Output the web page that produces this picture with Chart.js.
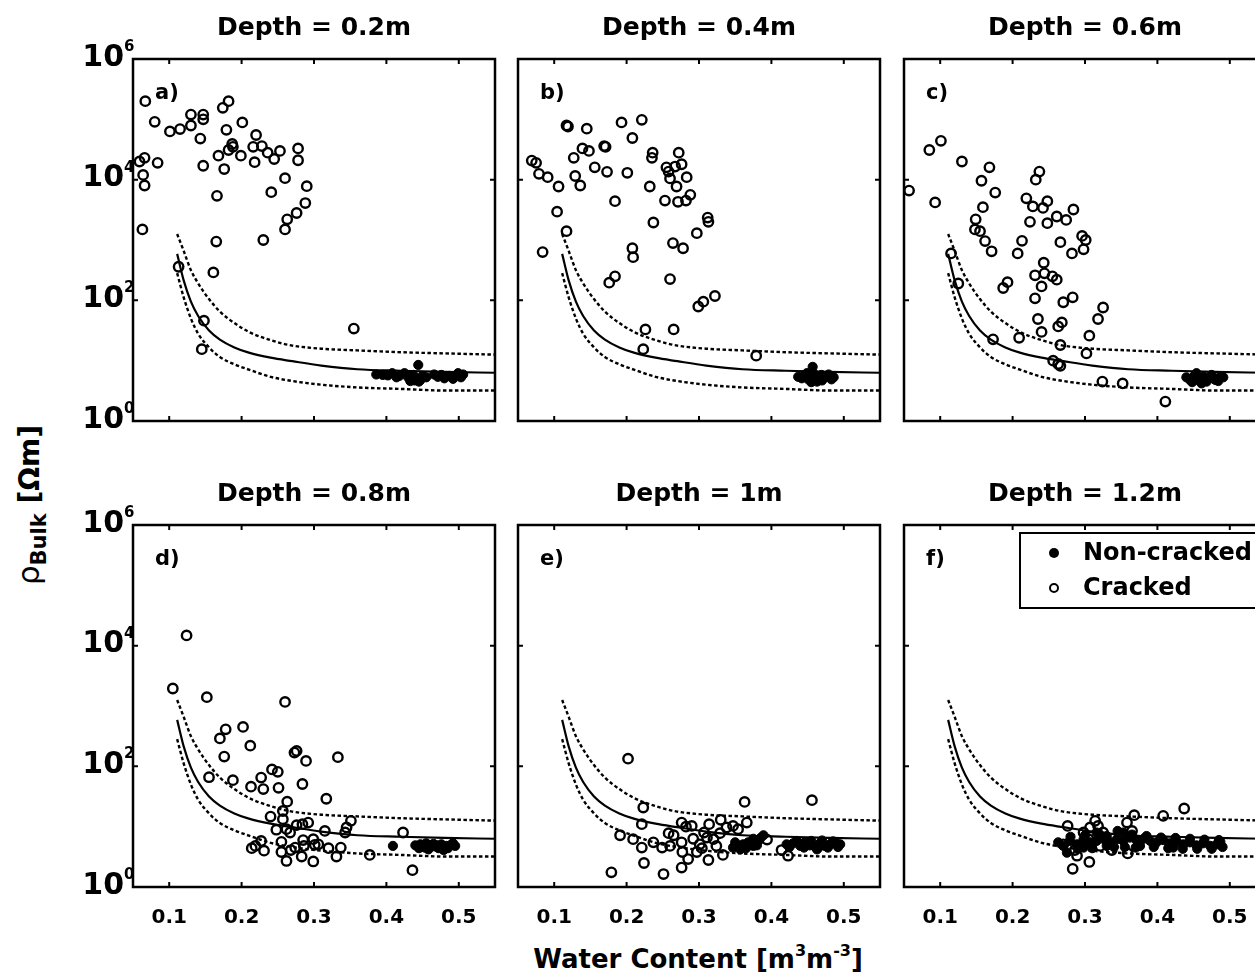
<!DOCTYPE html>
<html>
<head>
<meta charset="utf-8">
<script src="https://cdn.jsdelivr.net/npm/chart.js@4.4.1/dist/chart.umd.min.js"></script>
<style>
  html, body { margin: 0; padding: 0; background: #fff; overflow: hidden; }
  body { width: 1255px; height: 980px; position: relative; font-family: "DejaVu Sans", sans-serif; }
  canvas { position: absolute; }
  .lab { position: absolute; white-space: nowrap; font-weight: bold; color: #000; line-height: 1; }
  #ylab { left: 31px; top: 505px; font-size: 28px; transform: translate(-50%, -50%) rotate(-90deg); }
  #ylab .rho { font-weight: normal; font-size: 31px; }
  #ylab sub { font-size: 21px; vertical-align: -7px; }
  #xlab { left: 698px; top: 957px; font-size: 26px; transform: translate(-50%, -50%); }
  #xlab sup { font-size: 16px; vertical-align: 12px; }
</style>
</head>
<body>
<div id="ylab" class="lab"><span class="rho">ρ</span><sub>Bulk</sub> [Ωm]</div>
<div id="xlab" class="lab">Water Content [m<sup>3</sup>m<sup>-3</sup>]</div>
<script>
// titulos e rotulos dos paineis
const panelTitles = ["Depth = 0.2m", "Depth = 0.4m", "Depth = 0.6m", "Depth = 0.8m", "Depth = 1m", "Depth = 1.2m"];
const panelLetters = ["a)", "b)", "c)", "d)", "e)", "f)"];
const xTicks = [0.1, 0.2, 0.3, 0.4, 0.5];
const yTicks = [1, 1e2, 1e4, 1e6];
const yTickExp = ["0", "2", "4", "6"];

// curva ajustada e limites
const curveX     = [0.111, 0.12, 0.13, 0.14, 0.155, 0.17, 0.19, 0.21, 0.24, 0.27, 0.31, 0.36, 0.42, 0.48, 0.55];
const curveMid   = [589, 214, 95, 55, 31.6, 22.4, 16.6, 13.6, 11.2, 9.8, 8.3, 7.2, 6.8, 6.5, 6.3];
const curveUpper = [1259, 661, 316, 191, 105, 65, 42, 30, 21.9, 17.8, 15.8, 14.8, 13.8, 13.2, 12.6];
const curveLower = [282, 112, 50, 28, 16.6, 11.5, 8.7, 7.1, 5.4, 4.6, 4.0, 3.6, 3.4, 3.2, 3.2];

// pontos [teor de agua, resistividade]
const crackedA = [[0.067,2.0e5],[0.059,2.0e4],[0.066,2.3e4],[0.064,1.2e4],[0.066,8.0e3],[0.063,1.5e3],[0.080,9.1e4],[0.084,1.9e4],[0.101,6.3e4],[0.115,6.9e4],[0.130,1.2e5],[0.130,7.9e4],[0.147,1.2e5],[0.147,1.0e5],[0.143,4.8e4],[0.147,1.7e4],[0.174,1.55e5],[0.182,2.0e5],[0.179,6.7e4],[0.201,8.9e4],[0.168,2.5e4],[0.176,1.5e4],[0.182,3.1e4],[0.187,3.9e4],[0.188,3.5e4],[0.199,2.5e4],[0.166,5.4e3],[0.165,940],[0.161,290],[0.113,360],[0.148,46],[0.145,15.5],[0.220,5.5e4],[0.216,3.5e4],[0.228,3.6e4],[0.218,1.95e4],[0.236,2.8e4],[0.245,2.2e4],[0.253,3.0e4],[0.278,3.3e4],[0.278,2.1e4],[0.241,6.2e3],[0.260,1.06e4],[0.290,7.8e3],[0.288,4.1e3],[0.276,2.8e3],[0.263,2.2e3],[0.260,1.5e3],[0.230,1.0e3],[0.355,34]];
const intactA = [[0.386,5.9],[0.395,5.8],[0.408,6.2],[0.418,5.6],[0.425,6.2],[0.430,5.3],[0.437,5.8],[0.444,8.5],[0.441,5.1],[0.447,4.8],[0.450,5.6],[0.455,5.3],[0.471,5.4],[0.480,5.1],[0.487,5.6],[0.499,6.2],[0.503,5.3],[0.506,5.9],[0.466,5.9],[0.414,5.3],[0.402,5.7],[0.439,4.7],[0.433,4.6],[0.445,4.5],[0.476,5.8],[0.492,5.0]];
const crackedB = [[0.069,2.07e4],[0.075,1.9e4],[0.079,1.25e4],[0.091,1.1e4],[0.106,7.7e3],[0.104,2.95e3],[0.117,1.4e3],[0.084,630],[0.117,7.9e4],[0.119,7.6e4],[0.145,7.0e4],[0.127,2.3e4],[0.129,1.15e4],[0.136,8.0e3],[0.139,3.3e4],[0.148,3.0e4],[0.156,1.6e4],[0.169,3.6e4],[0.171,3.5e4],[0.173,1.35e4],[0.193,8.9e4],[0.208,4.9e4],[0.221,9.8e4],[0.201,1.3e4],[0.184,4.4e3],[0.236,2.8e4],[0.235,2.3e4],[0.232,7.7e3],[0.237,1.95e3],[0.255,1.6e4],[0.258,1.36e4],[0.267,1.65e4],[0.272,2.8e4],[0.276,1.8e4],[0.260,1.05e4],[0.269,7.7e3],[0.283,1.1e4],[0.288,5.6e3],[0.282,4.5e3],[0.271,4.3e3],[0.253,4.5e3],[0.312,2.35e3],[0.313,2.0e3],[0.297,1.3e3],[0.264,890],[0.278,730],[0.208,730],[0.209,520],[0.184,250],[0.176,196],[0.260,225],[0.322,118],[0.306,95],[0.299,79],[0.226,33],[0.265,33],[0.223,15.5],[0.379,12.1]];
const intactB = [[0.437,5.4],[0.442,5.1],[0.446,5.8],[0.451,4.9],[0.457,7.9],[0.458,6.2],[0.460,4.8],[0.465,5.4],[0.469,5.8],[0.474,5.3],[0.479,5.9],[0.483,4.9],[0.486,5.3],[0.449,6.2],[0.463,4.5],[0.455,4.4],[0.470,4.7]];
const crackedC = [[0.057,6.6e3],[0.085,3.1e4],[0.101,4.4e4],[0.093,4.2e3],[0.130,2.0e4],[0.168,1.6e4],[0.157,9.6e3],[0.176,6.1e3],[0.159,3.5e3],[0.149,2.2e3],[0.148,1.5e3],[0.155,1.4e3],[0.162,960],[0.171,650],[0.115,600],[0.125,190],[0.237,1.36e4],[0.232,1.0e4],[0.219,4.9e3],[0.228,3.6e3],[0.242,3.4e3],[0.248,4.4e3],[0.224,2.0e3],[0.248,1.9e3],[0.261,2.45e3],[0.274,2.15e3],[0.284,3.2e3],[0.213,970],[0.207,600],[0.266,920],[0.282,600],[0.296,1.17e3],[0.301,1.0e3],[0.298,700],[0.243,420],[0.231,260],[0.244,280],[0.255,250],[0.261,220],[0.240,170],[0.187,160],[0.193,200],[0.231,108],[0.270,93],[0.283,112],[0.325,76],[0.318,49],[0.235,49],[0.240,30],[0.263,37],[0.268,43],[0.306,26],[0.302,13.2],[0.266,18.2],[0.209,24],[0.173,22.6],[0.256,10],[0.263,8.8],[0.266,8.2],[0.324,4.5],[0.352,4.2],[0.411,2.1]];
const intactC = [[0.440,5.3],[0.445,4.8],[0.451,5.6],[0.457,4.7],[0.461,4.2],[0.464,5.4],[0.470,5.1],[0.475,5.8],[0.480,4.8],[0.487,5.4],[0.491,5.3],[0.454,6.2],[0.468,4.5],[0.448,4.4],[0.484,4.6]];
const crackedD = [[0.124,1.48e4],[0.105,1.95e3],[0.152,1.4e3],[0.260,1.17e3],[0.170,290],[0.178,410],[0.176,145],[0.202,450],[0.212,220],[0.155,66],[0.188,59],[0.213,46],[0.227,65],[0.230,42],[0.242,89],[0.250,81],[0.251,44],[0.273,169],[0.276,180],[0.289,123],[0.284,51],[0.333,142],[0.317,29],[0.263,26],[0.257,18.2],[0.257,13.3],[0.240,14.7],[0.248,8.9],[0.267,8.0],[0.276,10.6],[0.284,11],[0.292,11.7],[0.315,8.5],[0.345,9.7],[0.351,12.5],[0.343,8.0],[0.423,8.0],[0.214,4.4],[0.219,4.8],[0.227,5.8],[0.231,4.0],[0.255,5.6],[0.255,3.8],[0.262,2.7],[0.268,4.1],[0.274,4.5],[0.283,3.2],[0.285,6.0],[0.286,4.8],[0.299,6.2],[0.301,5.0],[0.306,5.1],[0.299,2.65],[0.320,4.4],[0.331,3.2],[0.337,4.5],[0.377,3.4],[0.436,1.9],[0.262,9.1]];
const intactD = [[0.409,4.8],[0.440,4.9],[0.447,5.1],[0.453,4.5],[0.460,4.9],[0.467,4.7],[0.472,4.4],[0.476,5.1],[0.483,4.8],[0.490,5.1],[0.495,4.8],[0.458,4.2],[0.479,4.1],[0.445,4.4],[0.455,5.3],[0.465,5.2],[0.470,4.9],[0.485,4.4],[0.492,5.3]];
const crackedE = [[0.202,134],[0.223,20.8],[0.221,11],[0.363,25.7],[0.456,27.5],[0.191,7.2],[0.209,6.2],[0.221,4.5],[0.224,2.5],[0.179,1.75],[0.251,1.64],[0.276,2.1],[0.237,5.5],[0.249,4.5],[0.258,7.8],[0.265,7.2],[0.260,4.8],[0.276,11.7],[0.282,10],[0.290,10.3],[0.276,5.5],[0.277,3.8],[0.285,2.9],[0.292,6.3],[0.301,5.1],[0.307,8.0],[0.314,11],[0.313,2.8],[0.320,6.2],[0.324,4.8],[0.330,13],[0.333,3.4],[0.338,9.7],[0.347,10.3],[0.354,9.1],[0.366,11.7],[0.297,3.8],[0.304,4.4],[0.414,4.1],[0.423,3.3],[0.311,6.6],[0.329,7.8],[0.394,6.1]];
const intactE = [[0.347,4.5],[0.354,4.8],[0.361,5.1],[0.368,5.5],[0.375,6.3],[0.382,5.8],[0.389,7.2],[0.357,4.2],[0.375,4.8],[0.421,5.1],[0.430,5.3],[0.440,4.8],[0.446,5.5],[0.453,4.9],[0.460,4.7],[0.467,5.3],[0.474,4.8],[0.481,5.1],[0.488,5.6],[0.495,5.1],[0.463,4.2],[0.350,5.5],[0.365,4.4],[0.372,5.2],[0.380,4.9],[0.385,6.5],[0.425,4.6],[0.435,5.8],[0.445,4.5],[0.455,5.8],[0.465,4.5],[0.470,5.9],[0.478,4.5],[0.485,5.7],[0.492,4.6]];
const crackedF = [[0.276,10.3],[0.283,2.0],[0.306,2.6],[0.289,3.3],[0.270,5.1],[0.298,8.0],[0.307,9.7],[0.314,12.5],[0.318,10.3],[0.325,8.0],[0.305,6.2],[0.293,4.8],[0.286,4.1],[0.321,4.8],[0.337,4.1],[0.359,3.6],[0.358,11.7],[0.368,15.5],[0.365,8.5],[0.408,15.1],[0.437,20],[0.330,5.8],[0.348,6.6]];
const intactF = [[0.263,5.5],[0.270,4.8],[0.279,5.8],[0.289,5.1],[0.298,6.2],[0.307,5.5],[0.316,5.8],[0.325,6.6],[0.335,5.5],[0.344,6.2],[0.353,5.8],[0.362,6.6],[0.371,6.0],[0.381,6.3],[0.390,5.8],[0.399,5.5],[0.408,6.0],[0.417,5.3],[0.427,5.6],[0.436,5.1],[0.445,5.5],[0.454,4.9],[0.463,5.3],[0.473,4.8],[0.482,5.1],[0.487,5.6],[0.275,3.7],[0.298,4.5],[0.330,4.8],[0.376,4.8],[0.422,4.5],[0.353,8.0],[0.316,8.0],[0.280,6.8],[0.290,4.3],[0.300,7.2],[0.310,4.4],[0.320,7.5],[0.330,7.0],[0.340,4.6],[0.345,8.5],[0.355,4.6],[0.365,7.4],[0.370,4.5],[0.385,7.0],[0.395,4.6],[0.405,6.6],[0.415,4.4],[0.425,6.5],[0.435,4.3],[0.445,6.3],[0.455,4.3],[0.465,6.1],[0.475,4.3],[0.485,6.0],[0.490,4.6]];

const crackedSets = [crackedA, crackedB, crackedC, crackedD, crackedE, crackedF];
const intactSets = [intactA, intactB, intactC, intactD, intactE, intactF];

// layout (px)
const colLeft = [133, 518, 904];
const rowTop = [59, 525];
const PLOT_W = 362, PLOT_H = 362, TITLE_H = 46;

Chart.defaults.font.family = "DejaVu Sans";
Chart.defaults.color = "#000";

const toPts = arr => arr.map(([x, y]) => ({ x, y }));
const curvePts = ys => curveX.map((x, k) => ({ x, y: ys[k] }));

function panelPlugin(i) {
  return {
    id: "panel" + i,
    afterDraw(chart) {
      const { ctx, chartArea: a, scales: { x, y } } = chart;
      ctx.save();
      // moldura
      ctx.strokeStyle = "#000";
      ctx.lineWidth = 2.5;
      ctx.strokeRect(a.left, a.top, a.right - a.left, a.bottom - a.top);
      // ticks para dentro
      ctx.lineWidth = 2;
      ctx.beginPath();
      xTicks.forEach(v => {
        const px = x.getPixelForValue(v);
        ctx.moveTo(px, a.bottom); ctx.lineTo(px, a.bottom - 5);
        ctx.moveTo(px, a.top); ctx.lineTo(px, a.top + 5);
      });
      yTicks.forEach(v => {
        const py = y.getPixelForValue(v);
        ctx.moveTo(a.left, py); ctx.lineTo(a.left + 5, py);
        ctx.moveTo(a.right, py); ctx.lineTo(a.right - 5, py);
      });
      ctx.stroke();
      ctx.fillStyle = "#000";
      // letra do painel
      ctx.font = "bold 21px 'DejaVu Sans'";
      ctx.textAlign = "left";
      ctx.textBaseline = "middle";
      ctx.fillText(panelLetters[i], a.left + 22, a.top + 35);
      // rotulos do eixo y (10^n)
      if (i % 3 === 0) {
        yTicks.forEach((v, k) => {
          const py = y.getPixelForValue(v);
          ctx.font = "bold 30px 'DejaVu Sans'";
          ctx.textAlign = "right";
          ctx.fillText("10", a.left - 9, py - 1);
          ctx.font = "bold 15px 'DejaVu Sans'";
          ctx.textAlign = "left";
          ctx.fillText(yTickExp[k], a.left - 9, py - 12);
        });
      }
      // legenda no painel f
      if (i === 5) {
        const ds = chart.data.datasets;
        const bx = a.left + 116, by = a.top + 8;
        ctx.fillStyle = "#fff";
        ctx.fillRect(bx, by, 300, 75);
        ctx.lineWidth = 2;
        ctx.strokeRect(bx, by, 300, 75);
        ctx.fillStyle = "#000";
        ctx.beginPath();
        ctx.arc(bx + 34, by + 20, 5, 0, Math.PI * 2);
        ctx.fill();
        ctx.beginPath();
        ctx.arc(bx + 34, by + 55, 4, 0, Math.PI * 2);
        ctx.stroke();
        ctx.font = "bold 24px 'DejaVu Sans'";
        ctx.textAlign = "left";
        ctx.fillText(ds[4].label, bx + 63, by + 21);
        ctx.fillText(ds[3].label, bx + 63, by + 56);
      }
      ctx.restore();
    }
  };
}

function makePanel(i) {
  const col = i % 3, row = Math.floor(i / 3);
  const yW = col === 0 ? 133 : 12;
  const xH = row === 1 ? 60 : 10;
  const canvas = document.createElement("canvas");
  canvas.width = yW + PLOT_W + 12;
  canvas.height = TITLE_H + PLOT_H + xH;
  canvas.style.left = (colLeft[col] - yW) + "px";
  canvas.style.top = (rowTop[row] - TITLE_H) + "px";
  document.body.appendChild(canvas);

  const lineBase = { showLine: true, pointRadius: 0, borderColor: "#000", cubicInterpolationMode: "monotone", order: 3 };

  new Chart(canvas, {
    type: "scatter",
    data: {
      datasets: [
        { ...lineBase, label: "Fit", data: curvePts(curveMid), borderWidth: 2.2 },
        { ...lineBase, label: "Upper", data: curvePts(curveUpper), borderWidth: 2.4, borderDash: [3.5, 2.5] },
        { ...lineBase, label: "Lower", data: curvePts(curveLower), borderWidth: 2.4, borderDash: [3.5, 2.5] },
        { label: "Cracked", data: toPts(crackedSets[i]), pointRadius: 4.7, pointBorderWidth: 2.4,
          pointBorderColor: "#000", pointBackgroundColor: "rgba(0,0,0,0)", order: 2 },
        { label: "Non-cracked", data: toPts(intactSets[i]), pointRadius: 4.6, pointBorderWidth: 1,
          pointBorderColor: "#000", pointBackgroundColor: "#000", order: 1 }
      ]
    },
    options: {
      responsive: false,
      animation: false,
      devicePixelRatio: 1,
      layout: { padding: { left: 0, right: 12, top: 0, bottom: 0 } },
      plugins: {
        legend: { display: false },
        tooltip: { enabled: false },
        title: {
          display: true, text: panelTitles[i], fullSize: false, color: "#000",
          font: { size: 25, weight: "bold" }, padding: { top: 0, bottom: 16 }
        }
      },
      scales: {
        x: {
          type: "linear", min: 0.05, max: 0.55,
          grid: { display: false }, border: { display: false },
          afterBuildTicks: s => { s.ticks = xTicks.map(v => ({ value: v })); },
          afterFit: s => { s.height = xH; },
          ticks: { display: row === 1, color: "#000", padding: 11, maxRotation: 0,
                   font: { size: 20, weight: "bold" }, callback: v => Number(v).toFixed(1) }
        },
        y: {
          type: "logarithmic", min: 1, max: 1e6,
          grid: { display: false }, border: { display: false },
          afterBuildTicks: s => { s.ticks = yTicks.map(v => ({ value: v })); },
          afterFit: s => { s.width = yW; },
          ticks: { display: false }
        }
      }
    },
    plugins: [panelPlugin(i)]
  });
}

for (let i = 0; i < 6; i++) makePanel(i);
</script>
</body>
</html>
